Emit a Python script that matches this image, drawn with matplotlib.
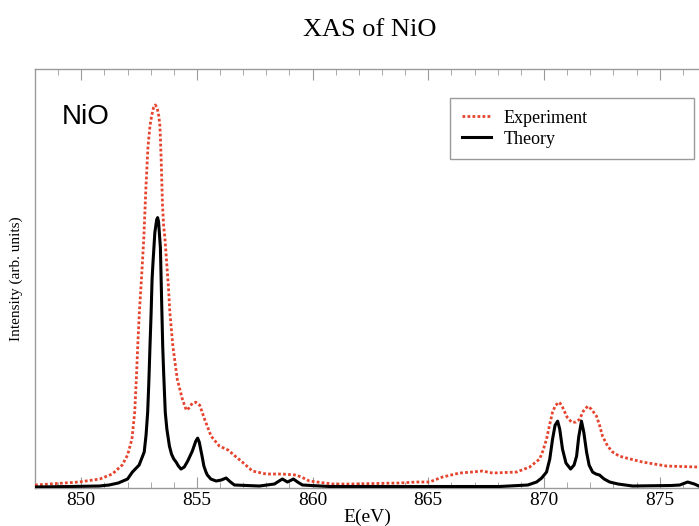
import matplotlib
matplotlib.use("Agg")
import matplotlib.pyplot as plt

# Experiment (dotted red)
exp_e = [848.0, 849.9, 850.8, 851.34, 851.77, 852.0, 852.19, 852.31, 852.38, 852.44,
         852.51, 852.6, 852.7, 852.79, 852.88, 852.97, 853.05, 853.12, 853.2, 853.28,
         853.35, 853.4, 853.45, 853.51, 853.56, 853.62, 853.76, 853.83, 853.96, 854.15,
         854.37, 854.54, 854.65, 854.8, 854.95, 855.12, 855.33, 855.61, 855.97, 856.35,
         856.65, 856.96, 857.4, 858.0, 858.69, 859.3, 859.6, 859.86, 860.86, 861.6,
         863.75, 864.49, 865.05, 865.61, 866.35, 866.87, 867.34, 867.78, 868.81, 869.38,
         869.81, 869.95, 870.11, 870.25, 870.37, 870.5, 870.67, 870.8, 871.0, 871.19,
         871.38, 871.54, 871.7, 871.89, 872.05, 872.27, 872.4, 872.53, 872.75, 872.97,
         873.25, 873.57, 874.26, 875.3, 876.69]
exp_i = [2, 5, 8, 13, 22, 32, 48, 75, 108, 141,
         175, 208, 248, 298, 340, 362, 373, 380, 383, 380,
         372, 362, 331, 283, 262, 248, 203, 175, 141, 108,
         88, 77, 79, 84, 85, 82, 68, 51, 41, 37,
         31, 25, 16, 13, 13, 12, 9, 6, 3, 3,
         4, 5, 5, 10, 14, 15, 16, 14, 15, 20,
         28, 36, 48, 63, 75, 82, 85, 80, 70, 65,
         65, 68, 76, 81, 78, 71, 62, 51, 41, 35,
         31, 29, 25, 21, 20]

# Theory (solid black)
th_e = [848.0, 849.5, 850.78, 851.2, 851.6, 852.0, 852.21, 852.5, 852.72, 852.8,
        852.87, 852.92, 852.97, 853.02, 853.06, 853.1, 853.18, 853.26, 853.3, 853.34,
        853.42, 853.48, 853.52, 853.56, 853.63, 853.7, 853.81, 853.9, 854.0, 854.1,
        854.2, 854.31, 854.45, 854.6, 854.8, 854.95, 855.03, 855.1, 855.22, 855.3,
        855.39, 855.45, 855.6, 855.83, 856.05, 856.26, 856.45, 856.62, 857.7, 858.35,
        858.55, 858.69, 858.91, 859.17, 859.35, 859.56, 860.73, 868.08, 869.3, 869.68,
        869.9, 870.11, 870.25, 870.37, 870.48, 870.59, 870.68, 870.8, 870.95, 871.15,
        871.3, 871.41, 871.5, 871.62, 871.72, 871.84, 871.95, 872.1, 872.25, 872.4,
        872.6, 872.84, 873.2, 873.83, 875.5, 875.87, 876.21, 876.5, 876.69]
th_i = [0, 0.5, 1, 2, 4, 8, 15, 22, 35, 52,
        75, 105, 141, 175, 208, 225, 255, 268, 270, 266,
        240, 180, 141, 115, 75, 58, 41, 33, 28, 25,
        21, 18, 20, 26, 36, 46, 49, 45, 31, 21,
        15, 12, 8, 6, 7, 9, 5, 2, 1, 3,
        6, 8, 5, 8, 5, 2, 0.5, 0.5, 2, 5,
        9, 15, 28, 48, 62, 66, 58, 38, 24, 18,
        22, 31, 50, 66, 55, 35, 22, 15, 13, 12,
        8, 5, 3, 1, 1.5, 2, 5, 3, 1]

x_ticks = [850, 855, 860, 865, 870, 875]

serif = "Liberation Serif"
grey = "#9a9a9a"

fig = plt.figure(figsize=(6.99, 5.26), dpi=100)
ax = fig.add_axes([35 / 699, 38 / 526, 664 / 699, 419 / 526])

ax.plot(exp_e, exp_i, color="#e5452f", linewidth=2.0, linestyle=(0, (1, 0.8)),
        label="Experiment", zorder=3)
ax.plot(th_e, th_i, color="black", linewidth=2.2, label="Theory", zorder=4)

ax.set_xlim(848, 876.7)
ax.set_ylim(-1, 419)

ax.set_xticks(x_ticks)
ax.set_xticks(range(848, 877), minor=True)
ax.set_yticks([])
ax.tick_params(axis="x", which="both", direction="in", top=True, bottom=True,
               color=grey, labelsize=14, pad=3)
ax.tick_params(axis="x", which="major", length=8)
ax.tick_params(axis="x", which="minor", length=4)
for lab in ax.get_xticklabels():
    lab.set_fontfamily(serif)

for side in ["left", "top", "bottom"]:
    ax.spines[side].set_color(grey)
    ax.spines[side].set_linewidth(1.0)
ax.spines["right"].set_visible(False)

ax.set_xlabel("E(eV)", fontfamily=serif, fontsize=14)
ax.xaxis.set_label_coords(0.5, -0.05)
ax.set_ylabel("Intensity (arb. units)", fontfamily=serif, fontsize=11)
ax.yaxis.set_label_coords(-0.018, 0.5)

ax.text(0.04, 0.885, "NiO", transform=ax.transAxes, fontfamily="Liberation Sans",
        fontsize=20, ha="left", va="center")

leg = ax.legend(loc="upper left", bbox_to_anchor=(0.625, 0.80, 0.3675, 0.131),
                mode="expand", borderaxespad=0, prop={"family": serif, "size": 13},
                handlelength=1.6, handletextpad=0.7, labelspacing=0.22,
                borderpad=0.65, fancybox=False, framealpha=1)
leg.get_frame().set_edgecolor(grey)
leg.get_frame().set_linewidth(1.0)

fig.text(370 / 699, 1 - 30 / 526, "XAS of NiO", fontfamily=serif, fontsize=19,
         ha="center", va="center")

fig.savefig("out.png", dpi=100)
